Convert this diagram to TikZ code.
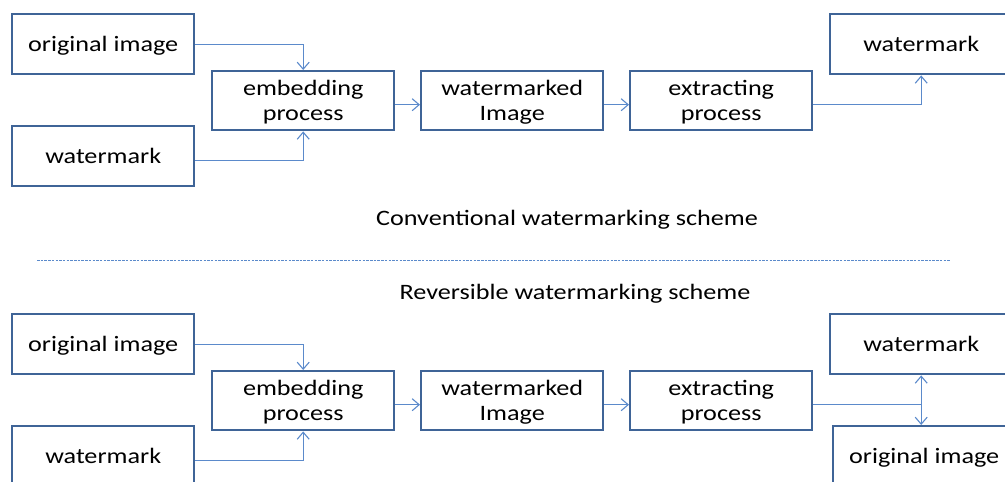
\documentclass[tikz,border=0pt]{standalone}
\usepackage{fontspec}
\setmainfont{Carlito}
\usetikzlibrary{arrows.meta}
\definecolor{boxc}{HTML}{3F6497}
\definecolor{linec}{HTML}{5B8ACB}
\newcommand{\wtxt}[1]{\raisebox{-2pt}[\height][\depth]{\scalebox{1.19}[1]{\begin{tabular}{@{}c@{}}#1\end{tabular}}}}
\begin{document}
\begin{tikzpicture}[x=1pt,y=-1pt,
  blk/.style={draw=boxc,line width=2.4pt,fill=white,minimum width=182pt,minimum height=60pt,inner sep=0pt,font=\fontsize{22}{25}\selectfont,anchor=north west},
  conn/.style={draw=linec,line width=1.1pt,-{Straight Barb[length=7pt,width=12pt]}},
  captxt/.style={font=\fontsize{22}{25}\selectfont}]
\useasboundingbox (0,0) rectangle (1005,482);
\begin{scope}
\clip (0,0) rectangle (1005,482);
% top
\node[blk] (oi1) at (11,13) {\wtxt{original image}};
\node[blk] (wm1) at (11,125) {\wtxt{watermark}};
\node[blk,minimum height=59pt] (em1) at (211,70) {\wtxt{embedding\\process}};
\node[blk,minimum height=59pt] (wi1) at (420,70) {\wtxt{watermarked\\Image}};
\node[blk,minimum height=59pt] (ex1) at (629,70) {\wtxt{extracting\\process}};
\node[blk] (wo1) at (829,13) {\wtxt{watermark}};
\draw[conn] (oi1.east) -| (em1.north);
\draw[conn] ([yshift=-4pt]wm1.east) -| (em1.south);
\draw[conn] ([yshift=-4pt]em1.east) -- ([yshift=-4pt]wi1.west);
\draw[conn] ([yshift=-4pt]wi1.east) -- ([yshift=-4pt]ex1.west);
\draw[conn] ([yshift=-4pt]ex1.east) -| (wo1.south);
\node[captxt] (c1) at (567,218) {\wtxt{Conventional watermarking scheme}};
\draw[linec,line width=0.8pt,dash pattern=on 2.5pt off 1.2pt] (37,260) coordinate (d1) -- (950,260) coordinate (d2);
\node[captxt] (c2) at (575,292) {\wtxt{Reversible watermarking scheme}};
% bottom
\node[blk] (oi2) at (11,313) {\wtxt{original image}};
\node[blk] (wm2) at (11,425) {\wtxt{watermark}};
\node[blk,minimum height=59pt] (em2) at (211,370) {\wtxt{embedding\\process}};
\node[blk,minimum height=59pt] (wi2) at (420,370) {\wtxt{watermarked\\Image}};
\node[blk,minimum height=59pt] (ex2) at (629,370) {\wtxt{extracting\\process}};
\node[blk] (wo2) at (829,313) {\wtxt{watermark}};
\node[blk] (oo2) at (832,425) {\wtxt{original image}};
\draw[conn] (oi2.east) -| (em2.north);
\draw[conn] ([yshift=-4pt]wm2.east) -| (em2.south);
\draw[conn] ([yshift=-4pt]em2.east) -- ([yshift=-4pt]wi2.west);
\draw[conn] ([yshift=-4pt]wi2.east) -- ([yshift=-4pt]ex2.west);
\coordinate (e2) at ([yshift=-4pt]ex2.east);
\coordinate (j2) at (e2 -| wo2.south);
\draw[draw=linec,line width=1.1pt] (e2) -- (j2);
\draw[conn] (j2) -- (j2 |- wo2.south);
\draw[conn] (j2) -- (j2 |- oo2.north);
\end{scope}
\end{tikzpicture}
\end{document}
